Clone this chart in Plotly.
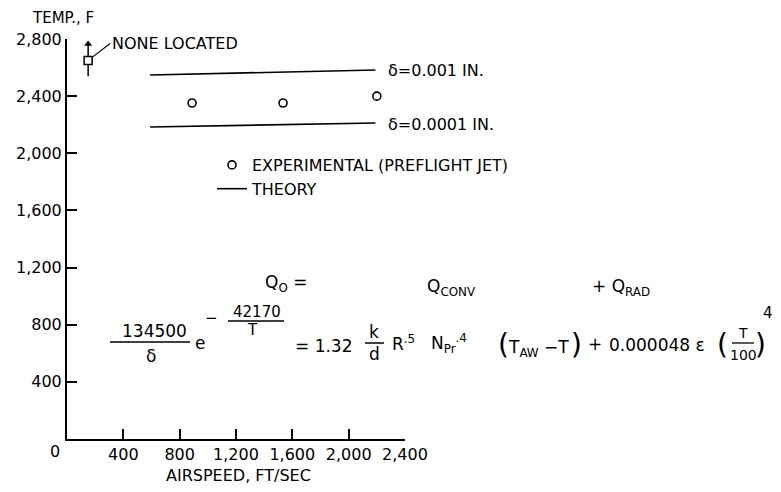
import plotly.graph_objects as go

# ---------------- data ----------------
airspeed_exp = [888, 1534, 2200]
temp_exp = [2352, 2352, 2400]

theory_001_x = [590, 2190]
theory_001_y = [2548, 2583]
theory_0001_x = [590, 2190]
theory_0001_y = [2184, 2212]

none_x = [150]
none_temp = [2650]
none_low = [2540]
none_high = [2765]

x_ticks = [400, 800, 1200, 1600, 2000, 2400]
x_ticklabels = ["400", "800", "1,200", "1,600", "2,000", "2,400"]
y_ticks = [400, 800, 1200, 1600, 2000, 2400, 2800]
y_ticklabels = ["400", "800", "1,200", "1,600", "2,000", "2,400", "2,800"]

# ---------------- layout helpers ----------------
# page body has an 8px margin; size the figure so the page does not overflow
OFF = 8
W, H = 781 - OFF, 492 - 2 * OFF
L = 67 - OFF           # y axis at page x=67
T = 39 - OFF           # top of y axis (2,800) at page y=39
AXIS_Y = 439 - OFF     # x axis at page y=439
B = H - AXIS_Y
PW = W - L
PH = AXIS_Y - T
AX_END = 405 - OFF     # x axis ends at page x=405


def PX(x):  # page pixel -> paper
    return (x - OFF - L) / PW


def PY(y):
    return (AXIS_Y - (y - OFF)) / PH


FONT = "DejaVu Sans"
BLACK = "black"

fig = go.Figure()

fig.add_trace(go.Scatter(
    x=airspeed_exp, y=temp_exp, mode="markers",
    name="EXPERIMENTAL (PREFLIGHT JET)",
    marker=dict(symbol="circle-open", size=8, color=BLACK, line=dict(width=1.6, color=BLACK)),
))
fig.add_trace(go.Scatter(
    x=theory_001_x, y=theory_001_y, mode="lines", name="THEORY",
    line=dict(color=BLACK, width=1.6),
))
fig.add_trace(go.Scatter(
    x=theory_0001_x, y=theory_0001_y, mode="lines", name="THEORY",
    line=dict(color=BLACK, width=1.6), showlegend=False,
))
fig.add_trace(go.Scatter(
    x=none_x, y=none_temp, mode="markers", showlegend=False,
    marker=dict(symbol="square", size=8, color="white", line=dict(width=1.5, color=BLACK)),
    error_y=dict(type="data", symmetric=False,
                 array=[h - t for h, t in zip(none_high, none_temp)],
                 arrayminus=[t - l for t, l in zip(none_temp, none_low)],
                 width=0, thickness=1.5, color=BLACK),
))
fig.add_trace(go.Scatter(
    x=none_x, y=none_high, mode="markers", showlegend=False,
    marker=dict(symbol="triangle-up", size=7, color=BLACK),
))

ann = []


def text(s, x, y, size=16, xanchor="left", yanchor="middle"):
    ann.append(dict(text=s, x=PX(x), y=PY(y), xref="paper", yref="paper",
                    showarrow=False, xanchor=xanchor, yanchor=yanchor,
                    font=dict(family=FONT, size=size, color=BLACK)))


shapes = []


def hbar(x0, x1, y, w=1.5):
    shapes.append(dict(type="line", xref="paper", yref="paper",
                       x0=PX(x0), x1=PX(x1), y0=PY(y), y1=PY(y),
                       line=dict(color=BLACK, width=w)))


# axis labels
text("TEMP., F", 30, 18, 15)
text("0", 55, 451, 16, xanchor="center")
text("AIRSPEED, FT/SEC", 238, 475, 16, xanchor="center")

# NONE LOCATED with leader
ann.append(dict(text="NONE LOCATED", x=none_x[0], y=none_temp[0], xref="x", yref="y",
                showarrow=True, arrowhead=0, arrowwidth=1.2, arrowcolor=BLACK,
                ax=22, ay=-17, xanchor="left", yanchor="middle",
                font=dict(family=FONT, size=16, color=BLACK), standoff=5))

# delta labels
text("δ=0.001 IN.", 386, 70, 16)
text("δ=0.0001 IN.", 386, 125, 16)

# equation line 1
EQ = 17
text("Q<sub>O</sub> =", 263, 283, EQ)
text("Q<sub>CONV</sub>", 425, 287, EQ)
text("+ Q<sub>RAD</sub>", 590, 287, EQ)

# equation line 2
text("134500", 154, 331, EQ, xanchor="center")
hbar(110, 190, 342)
text("δ", 151, 356, EQ, xanchor="center")
text("e", 200, 343, EQ, xanchor="center")
text("−", 211, 318, 15, xanchor="center")
text("42170", 257, 312, 15, xanchor="center")
hbar(228, 284, 321, 1.3)
text("T", 252, 330, 15, xanchor="center")
text("= 1.32", 293, 346, EQ)
text("k", 374, 332, EQ, xanchor="center")
hbar(365, 384, 343)
text("d", 374, 354, EQ, xanchor="center")
text("R<sup>.5</sup>", 390, 343, EQ)
text("N<sub>Pr</sub><sup>.4</sup>", 429, 343, EQ)
text("(", 503, 344, 28, xanchor="center")
text("T<sub>AW</sub> −T", 506, 348, EQ)
text(")", 576, 344, 28, xanchor="center")
text("+", 595, 344, EQ, xanchor="center")
text("0.000048 ε", 607, 345, EQ)
text("(", 722, 344, 28, xanchor="center")
text("T", 743, 333, 14, xanchor="center")
hbar(732, 754, 343, 1.3)
text("100", 743, 355, 14, xanchor="center")
text(")", 760, 344, 28, xanchor="center")
text("4", 768, 313, 15, xanchor="center")

fig.update_layout(
    width=W, height=H, autosize=False,
    margin=dict(l=L, r=0, t=T, b=B, pad=0, autoexpand=False),
    paper_bgcolor="white", plot_bgcolor="white",
    font=dict(family=FONT, size=16, color=BLACK),
    annotations=ann, shapes=shapes,
    legend=dict(x=PX(212), y=PY(148), xanchor="left", yanchor="top",
                bgcolor="rgba(0,0,0,0)", borderwidth=0,
                font=dict(family=FONT, size=16, color=BLACK),
                itemwidth=30, tracegroupgap=0),
    showlegend=True,
)
fig.update_xaxes(
    domain=[0, (AX_END - L) / PW], range=[0, 2400], automargin=False,
    showgrid=False, zeroline=False, showline=True, linecolor=BLACK, linewidth=2,
    ticks="inside", ticklen=10, tickwidth=1.5, tickcolor=BLACK,
    tickvals=x_ticks, ticktext=x_ticklabels,
    tickfont=dict(family=FONT, size=16, color=BLACK),
)
fig.update_yaxes(
    range=[0, 2800], automargin=False,
    showgrid=False, zeroline=False, showline=True, linecolor=BLACK, linewidth=2,
    ticks="inside", ticklen=10, tickwidth=1.5, tickcolor=BLACK,
    tickvals=y_ticks, ticktext=y_ticklabels,
    tickfont=dict(family=FONT, size=16, color=BLACK),
)

fig.write_html("out.html")
